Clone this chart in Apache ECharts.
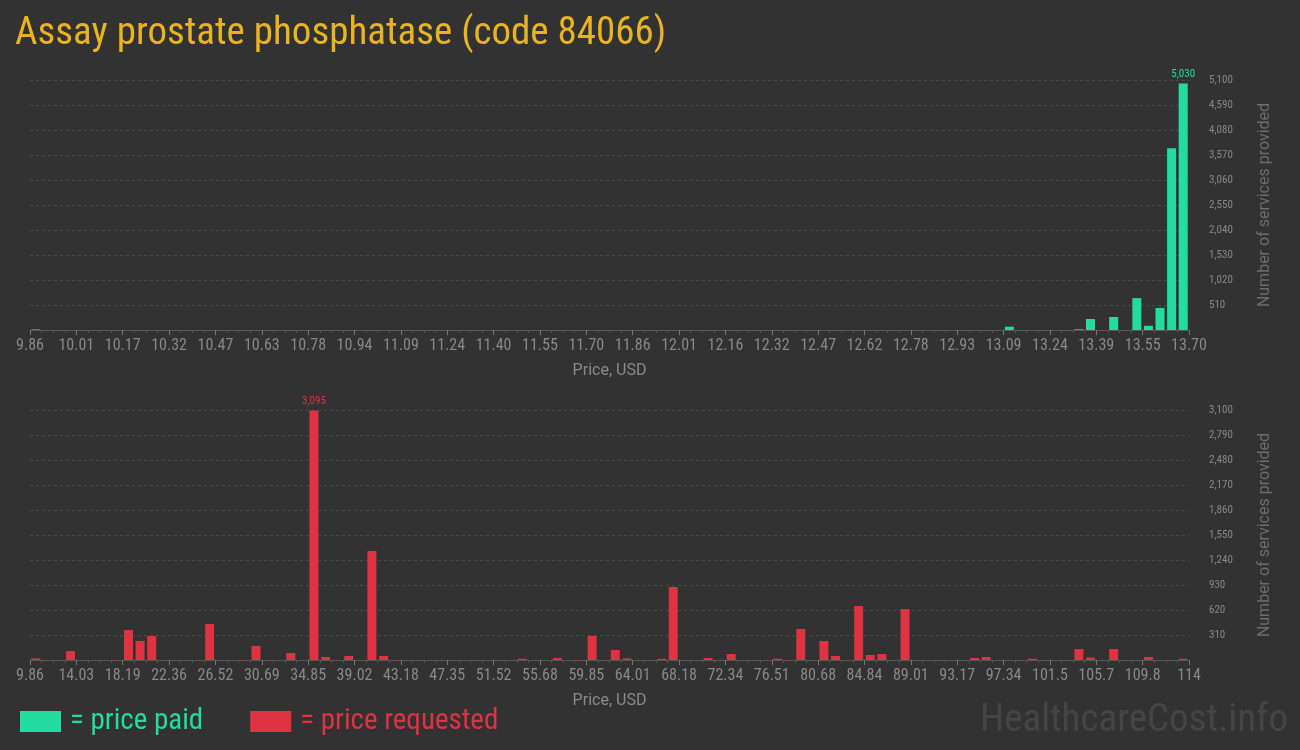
<!DOCTYPE html>
<html>
<head>
<meta charset="utf-8">
<script src="https://cdn.jsdelivr.net/npm/echarts@6/dist/echarts.min.js"></script>
<style>
  html, body { margin: 0; padding: 0; background: #323232; }
  #chart { width: 1300px; height: 750px; }
</style>
</head>
<body>
<div id="chart"></div>
<script>
// Histogram of prices: 100 equal-width bins per panel.
const BIN_COUNT = 100;

// Tick labels at every 4th bin edge
const paidTicks = ['9.86','10.01','10.17','10.32','10.47','10.63','10.78','10.94','11.09','11.24','11.40','11.55','11.70','11.86','12.01','12.16','12.32','12.47','12.62','12.78','12.93','13.09','13.24','13.39','13.55','13.70'];
const requestedTicks = ['9.86','14.03','18.19','22.36','26.52','30.69','34.85','39.02','43.18','47.35','51.52','55.68','59.85','64.01','68.18','72.34','76.51','80.68','84.84','89.01','93.17','97.34','101.5','105.7','109.8','114'];

// Non-empty bins (bin index) and number of services in each
const paidBins   = [0, 84, 90, 91, 93, 95, 96, 97, 98, 99];
const paidCounts = [12, 67, 15, 225, 265, 650, 85, 450, 3710, 5030];

const requestedBins   = [0, 3, 8, 9, 10, 15, 19, 22, 24, 25, 27, 29, 30, 42, 45, 48, 50, 51, 54, 55, 58, 60, 64, 66, 68, 69, 71, 72, 73, 75, 81, 82, 86, 90, 91, 93, 96, 99];
const requestedCounts = [20, 112, 372, 236, 298, 446, 174, 87, 3095, 37, 50, 1352, 50, 15, 25, 298, 124, 20, 15, 905, 25, 74, 15, 385, 236, 50, 670, 62, 74, 632, 25, 37, 15, 136, 30, 136, 37, 15];

const GREEN = '#22dd9f';
const RED = '#dd3343';
const NARROW = "'Roboto Condensed', 'Liberation Sans Narrow', 'DejaVu Sans Condensed', sans-serif";

function buildData(bins, counts, color) {
  const maxV = Math.max(...counts);
  return bins.map((b, i) => {
    const item = { value: [b + 0.5, counts[i]] };
    if (counts[i] === maxV) {
      item.label = {
        show: true, position: 'top', distance: 4,
        color: color, fontFamily: NARROW, fontSize: 11,
        formatter: p => p.value[1].toLocaleString('en-US')
      };
    }
    return item;
  });
}

function xAxisFor(gridIndex, ticks) {
  return {
    type: 'value', gridIndex, min: 0, max: BIN_COUNT, interval: 4,
    name: 'Price, USD', nameLocation: 'middle', nameGap: 33,
    nameTextStyle: { color: '#8a8a8a', fontSize: 16, fontFamily: 'Roboto, sans-serif' },
    axisLine: { show: true, lineStyle: { color: '#555', width: 1 } },
    axisTick: { show: true, length: 5, lineStyle: { color: '#777' } },
    minorTick: { show: true, splitNumber: 4, length: 3, lineStyle: { color: '#555' } },
    splitLine: { show: false },
    axisLabel: {
      color: '#888', fontSize: 16, fontFamily: NARROW, margin: 8,
      formatter: v => ticks[Math.round(v / 4)]
    }
  };
}

function yAxisFor(gridIndex, max, interval) {
  return {
    type: 'value', gridIndex, position: 'right', min: 0, max, interval,
    name: 'Number of services provided', nameLocation: 'middle', nameGap: 68, nameRotate: 90,
    nameTextStyle: { color: '#6c6c6c', fontSize: 16, fontFamily: 'Roboto, sans-serif' },
    axisLine: { show: false },
    axisTick: { show: false },
    splitLine: { show: true, lineStyle: { color: '#4b4b4b', type: [3, 3], width: 1 } },
    axisLabel: {
      color: '#888', fontSize: 11, fontFamily: NARROW, margin: 20,
      formatter: v => v === 0 ? '' : v.toLocaleString('en-US')
    }
  };
}

const chart = echarts.init(document.getElementById('chart'), null, { renderer: 'canvas' });
chart.setOption({
  backgroundColor: '#323232',
  animation: false,
  title: {
    text: 'Assay prostate phosphatase (code 84066)',
    left: 10, top: 10,
    textStyle: { color: '#e8b520', fontSize: 39, fontWeight: 'normal', fontFamily: NARROW }
  },
  legend: {
    left: 15, bottom: 9, itemWidth: 41, itemHeight: 21, itemGap: 47,
    icon: 'rect',
    textStyle: { fontSize: 29, fontFamily: NARROW, padding: [0, 0, 0, 4] },
    data: [
      { name: '= price paid', textStyle: { color: GREEN } },
      { name: '= price requested', textStyle: { color: RED } }
    ],
    selectedMode: false
  },
  graphic: [{
    type: 'text', right: 12, bottom: 9,
    style: { text: 'HealthcareCost.info', fill: '#454545', fontSize: 39, fontFamily: NARROW }
  }],
  grid: [
    { left: 30, right: 111, top: 80, bottom: 420 },
    { left: 30, right: 111, top: 410, bottom: 90 }
  ],
  xAxis: [xAxisFor(0, paidTicks), xAxisFor(1, requestedTicks)],
  yAxis: [yAxisFor(0, 5100, 510), yAxisFor(1, 3100, 310)],
  series: [
    {
      name: '= price paid', type: 'bar', xAxisIndex: 0, yAxisIndex: 0,
      barWidth: 9, itemStyle: { color: GREEN },
      data: buildData(paidBins, paidCounts, GREEN)
    },
    {
      name: '= price requested', type: 'bar', xAxisIndex: 1, yAxisIndex: 1,
      barWidth: 9, itemStyle: { color: RED },
      data: buildData(requestedBins, requestedCounts, RED)
    }
  ]
});
</script>
</body>
</html>
